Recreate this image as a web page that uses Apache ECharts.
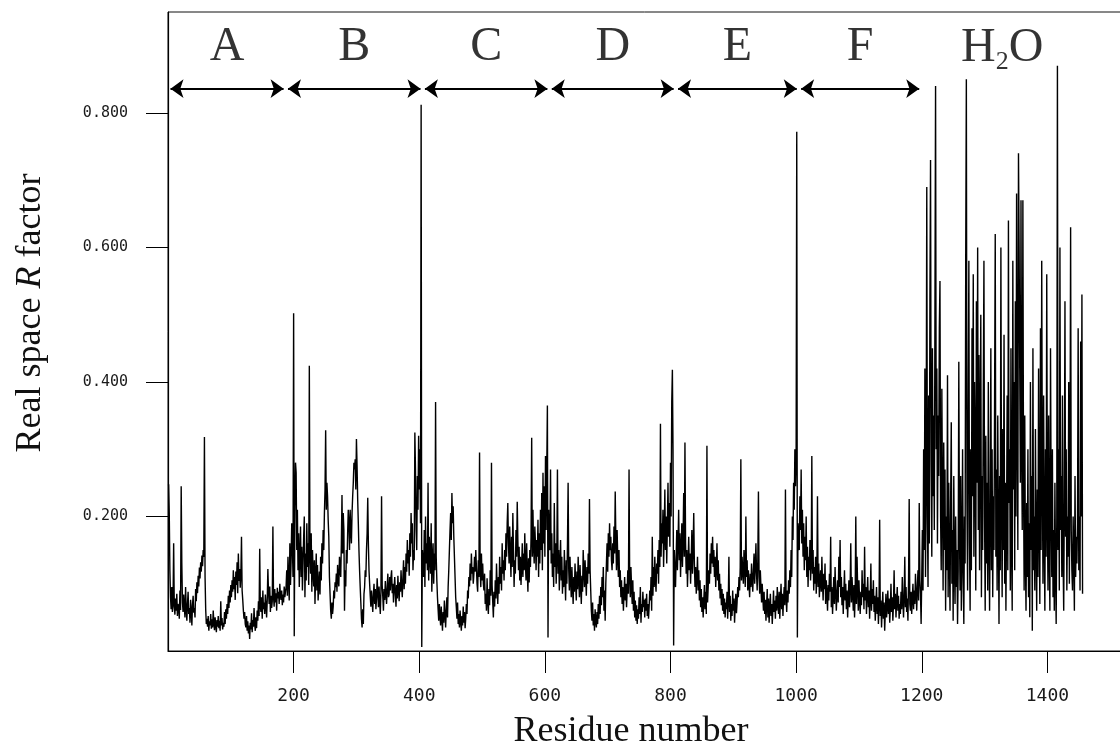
<!DOCTYPE html>
<html>
<head>
<meta charset="utf-8">
<script src="https://cdn.jsdelivr.net/npm/echarts@6/dist/echarts.min.js"></script>
<style>
  html, body { margin: 0; padding: 0; background: #fff; }
  #chart { width: 1120px; height: 750px; }
</style>
</head>
<body>
<div id="chart"></div>
<script>
// Real space R factor per residue (in thousandths), listed chain by chain.
const chainA = [
  248,205,120,80,62,95,58,70,160,66,54,78,60,85,52,70,64,48,90,61,
  245,130,72,58,84,66,50,95,62,45,70,88,55,64,42,76,60,38,68,82,
  57,64,50,92,74,102,86,112,96,124,108,132,118,142,126,150,140,318,110,62,
  40,48,36,52,30,44,38,55,33,47,35,60,42,31,50,39,28,46,36,52,
  34,45,30,74,38,49,32,42,36,58,40,62,48,70,55,82,64,90,72,98,
  80,105,88,120,92,110,76,118,98,132,86,145,104,122,94,112,170,90,76,60,
  48,58,40,35,52,30,44,26,38,18,42,32,56,28,46,36,64,40,30,50,
  34,60,45,74,52,152,66,58,80,48,90,62,72,55,84,68,50,76,122,88,
  70,96,58,82,64,74,185,80,66,92,72,86,60,94,78,88,70,100,82,76,
  90,68,84,72,96,80,88
];
const chainB = [
  95,120,82,140,105,75,160,98,135,190,160,110,502,22,205,280,265,150,210,120,
  175,95,140,185,110,155,90,130,170,200,80,145,105,190,125,160,98,424,140,115,
  175,88,150,120,96,135,70,112,145,90,128,75,100,118,84,140,105,160,130,180,
  150,205,240,328,210,250,230,195,170,110,85,60,48,72,55,66,90,78,102,95,
  115,88,128,105,96,140,120,110,160,232,145,205,180,60,120,96,150,130,175,210,
  190,150,210,180,160,205,230,250,280,270,285,240,315,275,225,190,150,120,95,72,
  48,35,62,40,85,95,120,110,150,175,228,160,120,100,82,66,90,74,58,84,
  100,70,92,62,78,108,86,65,96,74,55,88,230,98,80,60,92,76,104,85,
  70,95,115,80,84,110,90,110,120,86,100,72,94,110,84,66,98,78,112,90,
  74,102,88,120,96,80,110,135,92,125,100,145,118,165,130,150,112,175,140,205,
  160,190,120,150,135,325,270,180,150,260,210,320,240,300,190,812,6,150
];
const chainC = [
  150,110,180,95,200,130,160,120,250,105,170,140,115,190,88,135,160,100,145,120,
  370,140,105,80,62,45,70,52,38,66,48,30,58,42,75,55,35,60,80,50,
  95,120,150,180,205,165,235,190,215,170,140,110,80,65,48,72,40,55,35,60,
  45,30,52,38,66,42,58,34,48,70,55,90,78,110,96,130,105,145,115,125,
  100,115,140,118,150,125,100,88,135,110,295,120,95,145,105,130,100,90,115,70,
  85,60,108,75,55,92,68,120,82,280,98,72,50,88,66,105,78,130,95,70,
  110,85,140,100,125,90,160,115,135,105,150,120,175,140,190,220,160,130,185,145,
  110,170,125,205,150,95,135,115,180,140,222,165,120,155,105,140,98,125,160,110,
  145,120,175,130,105,160,118,88,138,102,150,125,170,317,140,210,155,130,185,160,
  120,165,140,195,110,175,130,210,150,235,120,265,160,245,140,290,180,270,365,20,
  210,170
];
const chainD = [
  150,270,130,175,110,145,95,220,125,160,100,140,270,115,150,90,130,165,105,140,
  85,120,95,150,110,75,135,100,160,250,120,90,140,105,80,125,95,70,110,88,
  130,100,75,118,92,140,105,80,128,96,70,112,88,150,120,95,135,108,82,125,
  100,145,115,226,120,90,60,45,72,38,55,30,62,44,35,58,40,70,48,82,
  55,95,68,110,80,125,60,90,45,100,130,160,118,175,140,190,150,170,135,120,
  160,130,185,145,237,165,120,180,140,110,150,95,120,80,105,70,95,60,85,110,
  75,100,65,90,120,85,270,110,80,125,95,70,105,60,88,50,75,45,68,40,
  62,48,80,55,95,42,70,58,88,65,76,50,78,60,85,52,70,48,66,90,
  75,110,60,170,82,125,95,140,105,88,130,115,150,100,165,125,338,140,190,160,
  210,125,175,240,150,200,130,185,250,170,220,155,280,200,370,418,300,8,150,120,
  95
];
const chainE = [
  140,180,120,160,210,135,175,110,150,190,125,165,235,140,310,160,115,150,95,130,
  170,120,145,100,135,180,115,150,205,130,95,125,85,110,140,90,120,75,105,65,
  92,58,80,50,75,98,62,88,55,305,72,95,120,100,145,115,160,130,170,125,
  150,110,140,95,125,160,105,135,90,115,78,100,68,92,60,85,55,78,50,72,
  62,88,48,75,140,58,82,45,70,52,90,60,78,42,66,85,56,72,95,80,
  110,90,125,285,105,140,118,100,150,125,95,200,110,135,90,120,100,80,115,95,
  130,105,88,120,145,100,125,160,115,90,135,237,110,85,120,95,72,100,80,60,
  88,55,76,45,68,92,50,78,42,65,85,52,70,40,62,90,58,75,48,82,
  60,95,70,55,88,48,76,100,62,85,52,78,95,68,240,80,58,90,72,105,
  85,120,95,150,110,200,165,250,210,300,245,285,772,20,190,160
];
const chainF = [
  150,230,180,270,160,210,140,190,120,170,135,200,110,155,95,140,120,165,105,130,
  290,115,150,90,125,100,140,85,110,230,95,130,80,105,120,88,140,100,75,115,
  92,130,70,105,85,60,98,75,115,88,170,65,95,55,82,110,70,125,90,60,
  85,105,72,140,95,165,80,110,68,95,55,88,120,75,100,62,90,50,78,105,
  65,95,160,72,110,85,60,98,50,82,200,70,140,92,60,105,75,55,88,68,
  120,80,100,62,155,75,95,55,85,110,65,90,48,78,130,60,92,70,105,58,
  82,45,70,95,55,80,40,68,195,52,75,35,62,88,48,72,30,58,85,50,
  66,90,55,78,42,65,100,58,80,45,70,120,62,85,50,75,95,60,82,48,
  70,55,88,62,110,75,50,82,140,65,95,58,78,45,105,226,70,60,88,55,
  80,100,62,90,70,115,85,60,95,120,75,220,105,85,40
];
const waters = [
  40,180,90,300,150,420,110,260,690,200,95,380,160,520,730,280,140,450,230,350,
  180,500,840,300,420,160,350,260,480,550,200,120,390,230,90,310,150,270,60,200,
  120,410,80,250,140,60,220,340,100,180,45,260,130,70,200,95,150,40,120,430,
  180,90,260,60,140,300,110,40,200,130,580,850,220,90,350,580,160,60,300,120,
  480,230,560,140,400,300,90,520,250,600,180,440,120,330,500,80,260,150,380,580,
  200,60,320,130,250,90,400,170,60,210,450,120,300,80,230,150,380,620,140,270,
  90,350,180,40,260,120,600,210,80,330,150,470,100,250,60,190,380,120,640,220,
  300,90,450,160,60,580,240,400,120,520,200,680,350,150,740,600,420,250,670,300,
  180,670,260,90,350,140,60,220,110,300,80,190,50,400,150,260,30,450,120,200,
  90,330,160,60,240,110,420,190,70,480,150,580,260,100,380,170,60,300,140,560,
  200,90,350,150,60,450,220,110,300,80,180,60,250,120,40,200,870,150,300,90,
  600,180,260,110,380,140,60,230,520,170,300,90,200,140,400,100,250,630,180,120,
  90,200,140,60,260,110,170,130,190,480,120,200,90,460,200,530,85
];

// Segment names shown above the trace, in residue order.
const segmentNames = ['A', 'B', 'C', 'D', 'E', 'F', 'H2O'];
const segments = [chainA, chainB, chainC, chainD, chainE, chainF, waters];

// Axis ticks.
const xTicks = [200, 400, 600, 800, 1000, 1200, 1400];
const yTicks = [0.2, 0.4, 0.6, 0.8];

// ---- build series data: residue number vs R factor ----
const rFactor = [].concat(...segments).map(v => v / 1000);
const points = rFactor.map((v, i) => [i + 1, v]);

// residue range of every segment
const ranges = [];
let first = 1;
segments.forEach(s => { ranges.push([first, first + s.length - 1]); first += s.length; });

const arrowY = 0.836;
const labelY = 0.898;
const arrowInset = 3;

const arrowLines = ranges.slice(0, 6).map(r => [
  { coord: [r[0] + arrowInset, arrowY] },
  { coord: [r[1] - arrowInset, arrowY] }
]);

const labelPoints = ranges.map((r, i) => ({
  value: [(r[0] + r[1]) / 2, labelY],
  label: i === 6 ? { offset: [0, 1.5] } : {}
}));
const labelText = segmentNames.map(n => n === 'H2O' ? '{n|H}{s|2}{n|O}' : '{n|' + n + '}');

const serif = 'Liberation Serif';
const mono = 'DejaVu Sans Mono';

const chart = echarts.init(document.getElementById('chart'), null, { renderer: 'canvas' });
chart.setOption({
  animation: false,
  backgroundColor: '#fff',
  grid: {
    left: 168, top: 12, width: 1005, bottom: 99,
    outerBoundsMode: 'none', containLabel: false,
    show: true, borderColor: '#111', borderWidth: 1, backgroundColor: 'transparent'
  },
  xAxis: {
    type: 'value', min: 0, max: 1600,
    axisLine: { show: true, lineStyle: { color: '#000', width: 1.2 } },
    axisTick: { show: true, inside: false, length: 22, customValues: xTicks,
                lineStyle: { color: '#000', width: 1 } },
    axisLabel: { customValues: xTicks, margin: 36, fontFamily: mono, fontSize: 18, color: '#1a1a1a',
                 formatter: v => String(v) },
    splitLine: { show: false }
  },
  yAxis: {
    type: 'value', min: 0, max: 0.95,
    axisLine: { show: true, lineStyle: { color: '#000', width: 1.2 } },
    axisTick: { show: true, inside: false, length: 22, customValues: yTicks,
                lineStyle: { color: '#000', width: 1 } },
    axisLabel: { customValues: yTicks, margin: 40, fontFamily: mono, fontSize: 15, color: '#1a1a1a',
                 formatter: v => v.toFixed(3) },
    splitLine: { show: false }
  },
  graphic: [
    {
      type: 'text', x: 631, y: 732,
      style: { text: 'Residue number', fontFamily: serif, fontSize: 36, fill: '#111',
               align: 'center', verticalAlign: 'middle' }
    },
    {
      type: 'text', x: 31, y: 313, rotation: Math.PI / 2,
      style: {
        text: '{a|Real space }{i|R}{a| factor}',
        align: 'center', verticalAlign: 'middle',
        rich: {
          a: { fontFamily: serif, fontSize: 36, fill: '#111' },
          i: { fontFamily: serif, fontSize: 36, fontStyle: 'italic', fill: '#111' }
        }
      }
    }
  ],
  series: [
    {
      type: 'line',
      data: points,
      showSymbol: false,
      symbol: 'none',
      lineStyle: { color: '#000', width: 1.4 },
      silent: true,
      markLine: {
        silent: true,
        symbol: ['arrow', 'arrow'],
        symbolSize: [14, 13],
        label: { show: false },
        lineStyle: { color: '#000', width: 2, type: 'solid' },
        emphasis: { disabled: true },
        data: arrowLines
      }
    },
    {
      type: 'scatter',
      symbolSize: 0,
      silent: true,
      data: labelPoints,
      label: {
        show: true, position: 'inside',
        formatter: p => labelText[p.dataIndex],
        rich: {
          n: { fontFamily: serif, fontSize: 48, color: '#000', lineHeight: 48, verticalAlign: 'top' },
          s: { fontFamily: serif, fontSize: 26, color: '#000', lineHeight: 26,
               verticalAlign: 'top', padding: [25, 0, 0, 0] }
        }
      }
    }
  ]
});
</script>
</body>
</html>
